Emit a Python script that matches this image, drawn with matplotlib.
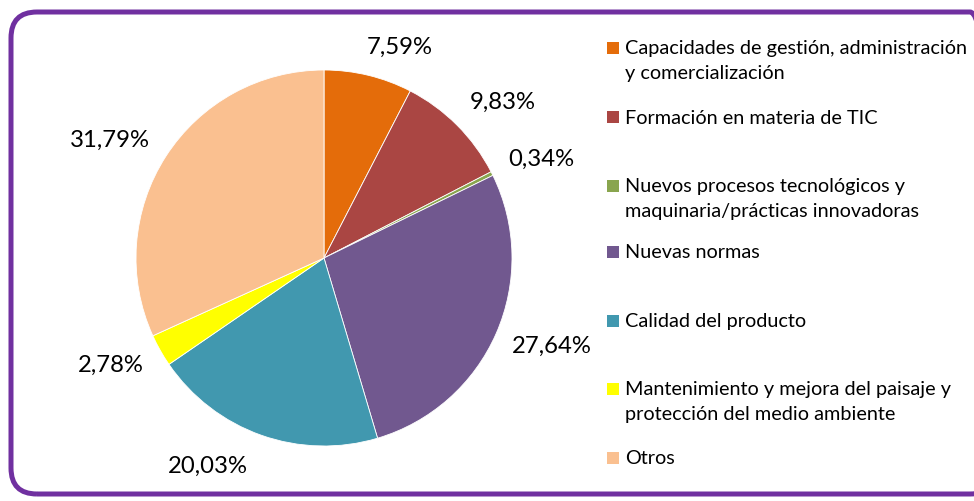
import matplotlib
matplotlib.use("Agg")
import numpy as np
import matplotlib.pyplot as plt
from matplotlib.patches import FancyBboxPatch, Rectangle
from matplotlib.legend_handler import HandlerPatch

plt.rcParams['font.family'] = ['Lato', 'DejaVu Sans']

labels = ["Capacidades de gestión, administración\ny comercialización",
          "Formación en materia de TIC",
          "Nuevos procesos tecnológicos y\nmaquinaria/prácticas innovadoras",
          "Nuevas normas",
          "Calidad del producto",
          "Mantenimiento y mejora del paisaje y\nprotección del medio ambiente",
          "Otros"]
values = [7.59, 9.83, 0.34, 27.64, 20.03, 2.78, 31.79]
colors = ["#E46C0A", "#AA4643", "#89A54E", "#71588F", "#4198AF", "#FFFF00", "#FAC090"]

# label placement: radial distance and angle shift from wedge middle (layout only)
label_dist = [1.19, 1.26, 1.27, 1.30, 1.27, 1.27, 1.30]
label_dang = [-6.2, -3.9, -2.4, 2.4, -9.6, -2.6, 4.0]

# legend entry centres (figure pixels from top)
legend_y = [61, 118, 199, 253, 322, 402, 459]

W, H = 974, 501
fig = plt.figure(figsize=(W / 100, H / 100), dpi=100)

# purple rounded frame
frame = FancyBboxPatch((0.11, 0.07), 9.85, 4.82,
                       boxstyle="round,pad=0,rounding_size=0.26",
                       transform=fig.dpi_scale_trans,
                       facecolor="none", edgecolor="#7030A0", linewidth=3.6,
                       zorder=5)
fig.patches.append(frame)

cx, cy, r = 324, 258, 188
ax = fig.add_axes([(cx - r) / W, (H - cy - r) / H, 2 * r / W, 2 * r / H])
wedges, texts, autotexts = ax.pie(
    values, colors=colors, startangle=90, counterclock=False,
    autopct=lambda p: ("%.2f%%" % p).replace(".", ","),
    pctdistance=1.27, radius=1,
    wedgeprops=dict(linewidth=0.6, edgecolor="white"),
    textprops=dict(fontsize=17.2, color="black"))
ax.set_xlim(-1, 1)
ax.set_ylim(-1, 1)
ax.set_aspect("equal")
ax.axis("off")
for w, t, d, da in zip(wedges, autotexts, label_dist, label_dang):
    a = np.deg2rad((w.theta1 + w.theta2) / 2 + da)
    t.set_position((d * np.cos(a), d * np.sin(a)))
    t.set_clip_on(False)

FS = 14.3
SQ = 8.6
LINESP = 1.6


def square_handler(nlines):
    shift = (nlines - 1) * 0.5 * 18.7

    def f(legend, orig_handle, xdescent, ydescent, width, height, fontsize):
        y = -ydescent + (height - SQ) / 2 + shift
        return Rectangle((-xdescent, y), SQ, SQ)
    return HandlerPatch(patch_func=f)


for w, lab, y in zip(wedges, labels, legend_y):
    leg = fig.legend(handles=[w], labels=[lab], loc="center left",
                     bbox_to_anchor=(607 / W, 1 - y / H), frameon=False,
                     prop={"size": FS}, handlelength=SQ / FS, handleheight=0.7,
                     handletextpad=0.3, borderpad=0, borderaxespad=0,
                     handler_map={w: square_handler(lab.count("\n") + 1)})
    for t in leg.get_texts():
        t.set_linespacing(LINESP)
    for p in leg.get_patches():
        p.set_edgecolor("none")

fig.savefig("out.png", dpi=100)
